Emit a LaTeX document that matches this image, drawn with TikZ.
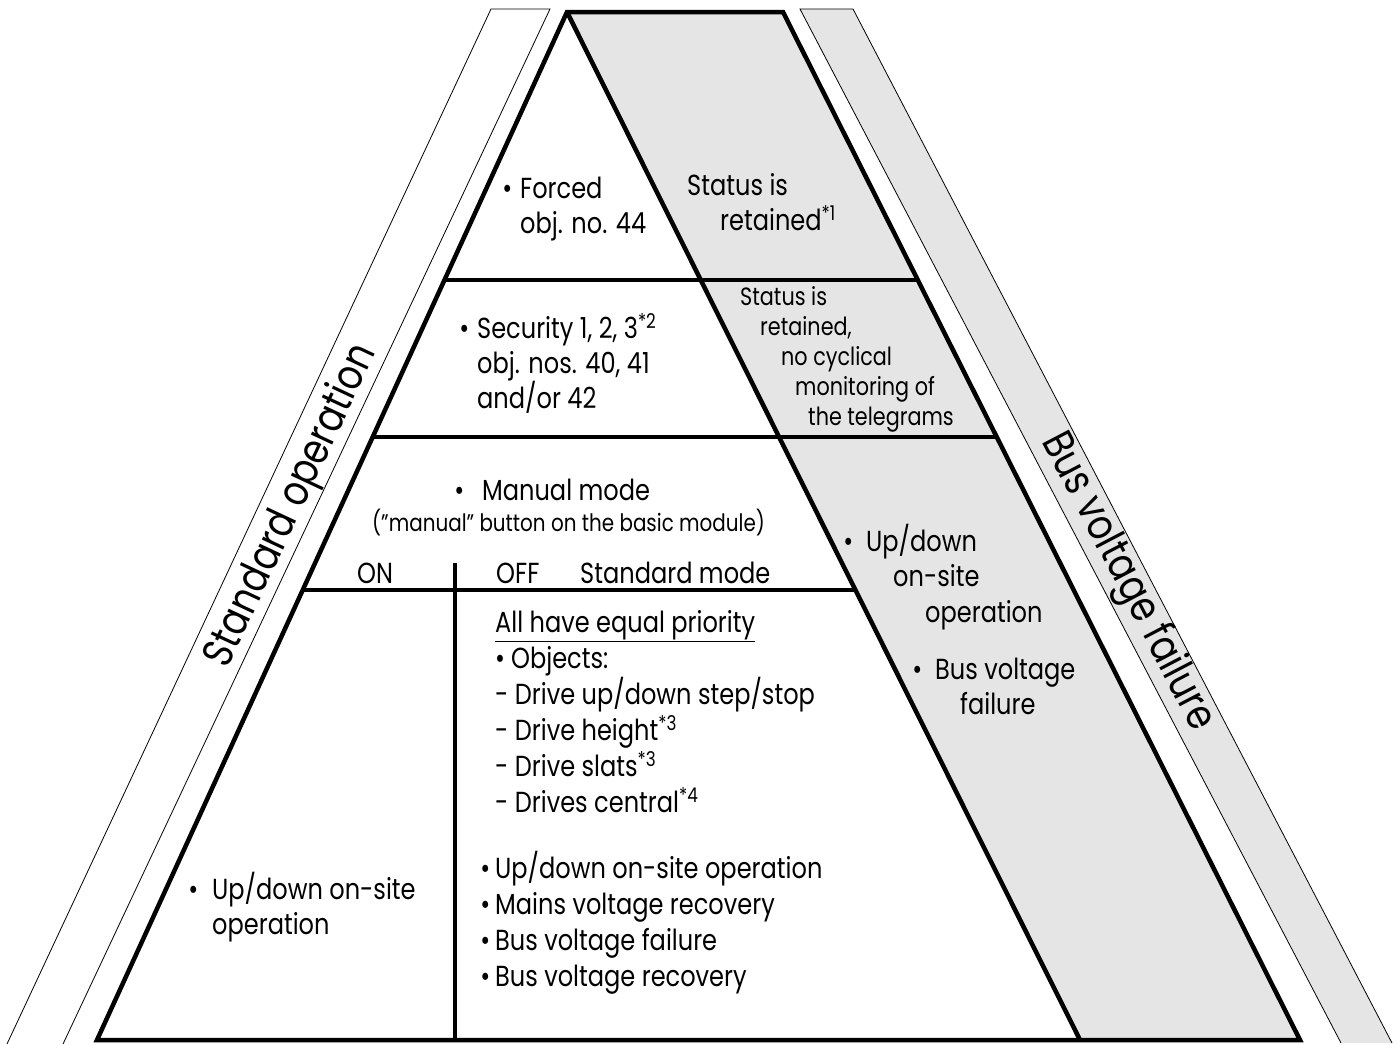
\documentclass[tikz,border=0pt]{standalone}
\usepackage{fontspec}
\setmainfont{Poppins}[FakeStretch=0.83]
\usetikzlibrary{calc}

\tikzset{
  txt/.style={anchor=base west,inner sep=0pt,align=left,font=\fontsize{29}{35}\selectfont},
  smalltxt/.style={txt,font=\fontsize{25}{30}\selectfont},
  bandtxt/.style={inner sep=0pt,font=\fontsize{43}{48}\selectfont},
  heavy/.style={line width=4.5pt},
  divider/.style={line width=4pt},
  hairline/.style={line width=0.8pt}
}
\newcommand{\bul}[1][8pt]{\llap{\textbullet\hspace{#1}}}

\begin{document}
\begin{tikzpicture}[x=1pt,y=-1pt]
\useasboundingbox (0,0) rectangle (1400,1044);
% bandes laterales
\draw[hairline] (7,1044) -- (491,9) -- (550,9) -- (63,1044);
\filldraw[hairline,fill=gray!20] (1341,1043) -- (800,9) -- (853,9) -- (1392,1043);
% pyramide
\coordinate (apex) at (567,12);
\coordinate (tr) at (783,12);
\coordinate (bl) at (97,1040);
\coordinate (bm) at (1080,1040);
\coordinate (br) at (1300,1040);
\fill[gray!20] (apex) -- (tr) -- (br) -- (bm) -- cycle;
\draw[heavy] (apex) -- (bm);
\foreach \t in {0.2607,0.4134}
  \draw[divider] ($(apex)!\t!(bl)$) -- ($(tr)!\t!(br)$);
\draw[divider] ($(apex)!0.5623!(bl)$) -- ($(apex)!0.5623!(bm)$);
\draw[divider] (455,563) -- (455,1040);
\draw[heavy] (apex) -- (tr) -- (br) -- (bl) -- cycle;
% textes (base = ligne du bas)
\node[txt] (forced) at (520,233) {\bul Forced\\obj. no. 44};
\node[txt] (keep1) at (687,230) {Status is\\\hspace*{33pt}retained\textsuperscript{*1}};
\node[txt] (secu) at (477,408) {\bul Security 1, 2, 3\textsuperscript{*2}\\obj. nos. 40, 41\\and/or 42};
\node[smalltxt] (keep2) at (740,425) {Status is\\\hspace*{20pt}retained,\\\hspace*{41pt}no cyclical\\\hspace*{55pt}monitoring of\\\hspace*{68pt}the telegrams};
\node[txt] (manual) at (482,500) {\bul[18pt]Manual mode};
\node[smalltxt,font=\fontsize{24}{30}\selectfont] (button) at (372,531) {("manual" button on the basic module)};
\node[txt] (on) at (357,583) {ON};
\node[txt] (off) at (496,583) {OFF};
\node[txt] (stdmode) at (580,583) {Standard mode};
\node[txt,font=\fontsize{29}{35.5}\selectfont] (updown1) at (866,622) {\bul[13pt]Up/down\\\hspace*{27pt}on-site\\\hspace*{59pt}operation};
\node[txt] (busfail1) at (935,714) {\bul[13pt]Bus voltage\\\hspace*{25pt}failure};
\node[txt] (updown2) at (212,934) {\bul[14pt]Up/down on-site\\operation};
\node[txt,font=\fontsize{29}{36}\selectfont] (prio) at (495,812) {\underline{All have equal priority}\\\textbullet\hspace{6pt}Objects:\\- Drive up/down step/stop\\- Drive height\textsuperscript{*3}\\- Drive slats\textsuperscript{*3}\\- Drives central\textsuperscript{*4}};
\node[txt,font=\fontsize{29}{35.7}\selectfont] (events) at (495,986) {\bul[5pt]Up/down on-site operation\\\bul[5pt]Mains voltage recovery\\\bul[5pt]Bus voltage failure\\\bul[5pt]Bus voltage recovery};
% bandes: titres
\node[bandtxt,rotate=64.9] (std) at (292,506) {Standard operation};
\node[bandtxt,rotate=-62.4] (bus) at (1127,582) {Bus voltage failure};
\end{tikzpicture}
\end{document}
